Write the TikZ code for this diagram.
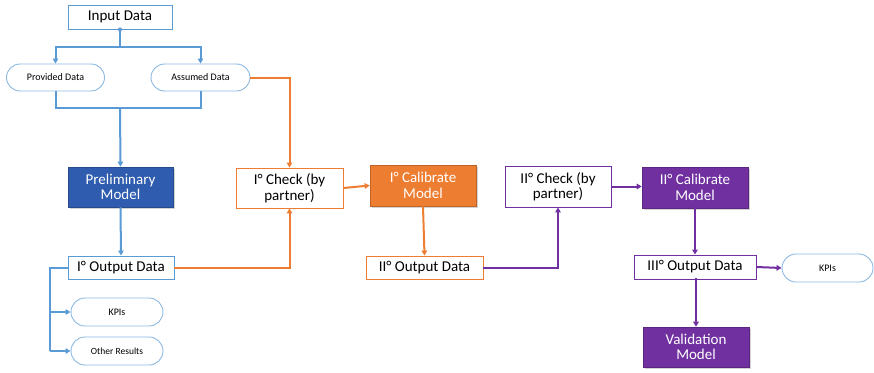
\documentclass[tikz,border=0pt]{standalone}
\usepackage{fontspec}
\setmainfont{Carlito}
\usetikzlibrary{arrows.meta,shadows}
\definecolor{lblue}{HTML}{5B9BD5}
\definecolor{dblue}{HTML}{2F5CAE}
\definecolor{orng}{HTML}{ED7D31}
\definecolor{purp}{HTML}{7030A0}
\tikzset{
  x=1pt,y=-1pt,
  rbox/.style n args={3}{draw=#1,line width=0.9pt,fill=white,minimum width=#2,minimum height=#3,inner sep=1pt,align=center,font=\fontsize{15}{15.5}\selectfont},
  fbox/.style n args={3}{draw=#1!80!black,line width=0.6pt,fill=#1,text=white,minimum width=#2,minimum height=#3,inner sep=1pt,align=center,font=\fontsize{15}{15.5}\selectfont,drop shadow={opacity=0.35,shadow xshift=1.5pt,shadow yshift=-1.5pt}},
  pill/.style n args={3}{draw=lblue!70,line width=0.9pt,fill=white,rounded corners=#3/2,minimum width=#2,minimum height=#3,inner sep=1pt,align=center,font=\fontsize{#1}{#1}\selectfont},
  conn/.style={draw=#1,line width=2pt,-{Triangle[length=5pt,width=5.5pt]}},
  lin/.style={draw=#1,line width=2pt},
}
\begin{document}
\begin{tikzpicture}
\useasboundingbox (0,0) rectangle (874,372);
% nodes
\node[rbox={lblue}{104pt}{24pt}] (in) at (120,17) {Input Data};
\node[pill={10}{98pt}{27pt}] (prov) at (55.5,77.5) {Provided Data};
\node[pill={10}{99pt}{27pt}] (ass) at (200.5,77.5) {Assumed Data};
\node[fbox={dblue}{105pt}{40pt}] (pre) at (120.5,187) {Preliminary\\Model};
\node[rbox={lblue}{106pt}{23pt}] (o1) at (121,267.5) {I° Output Data};
\node[pill={10}{92pt}{28pt}] (k1) at (117,312) {KPIs};
\node[pill={9.5}{92pt}{28pt}] (other) at (117,351) {Other Results};
\node[rbox={orng}{107pt}{40pt}] (c1) at (289.5,188) {I° Check (by\\partner)};
\node[fbox={orng}{106pt}{41pt}] (cal1) at (423,185.5) {I° Calibrate\\Model};
\node[rbox={orng}{117pt}{23pt}] (o2) at (424.5,267.5) {II° Output Data};
\node[rbox={purp}{106pt}{41pt}] (c2) at (558,186.5) {II° Check (by\\partner)};
\node[fbox={purp}{106pt}{41pt}] (cal2) at (695,187.5) {II° Calibrate\\Model};
\node[rbox={purp}{122pt}{24pt}] (o3) at (695,267) {III° Output Data};
\node[pill={10}{91pt}{28pt}] (k3) at (827.5,268) {KPIs};
\node[fbox={purp}{106pt}{40pt}] (val) at (696,347) {Validation\\Model};
% coordinates
\coordinate (split) at (120,47);
\coordinate (join) at (120,108);
\coordinate (lft) at (50,267.5);
% blue connectors
\fill[lblue] (in.south) circle (2pt);
\draw[lin=lblue] (in.south) -- (split);
\draw[conn=lblue] (split) -| (prov.north);
\draw[conn=lblue] (split) -| (ass.north);
\draw[lin=lblue] (prov.south) |- (join);
\draw[lin=lblue] (ass.south) |- (join);
\draw[conn=lblue] (join) -- (pre.north);
\draw[conn=lblue] (pre.south) -- (o1.north);
\draw[lin=lblue] (o1.west) -- (lft) -- (lft |- other.west);
\draw[conn=lblue] (lft |- k1.west) -- (k1.west);
\draw[conn=lblue] (lft |- other.west) -- (other.west);
% orange connectors
\draw[conn=orng] (ass.east) -| (c1.north);
\draw[conn=orng] (o1.east) -| (c1.south);
\draw[conn=orng] (c1.east) -- (cal1.west);
\draw[conn=orng] (cal1.south) -- (o2.north);
% purple connectors
\draw[conn=purp] (o2.east) -| (c2.south);
\draw[conn=purp] (c2.east) -- (c2.east -| cal2.west);
\draw[conn=purp] (cal2.south) -- (o3.north);
\draw[conn=purp] (o3.east) -- (k3.west);
\draw[conn=purp] (o3.south) -- (o3.south -| val.north) -- (val.north);
\end{tikzpicture}
\end{document}
